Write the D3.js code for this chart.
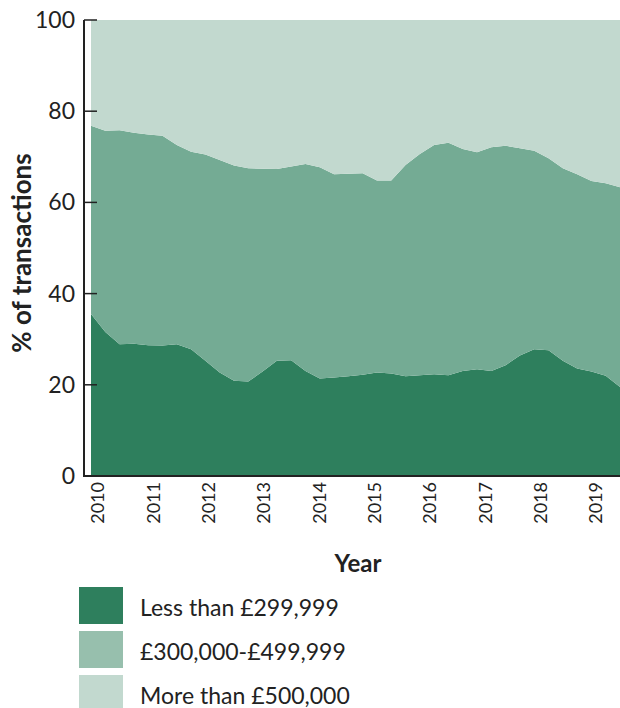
<!DOCTYPE html>
<html>
<head>
    <meta charset="utf-8">
    <title>Transactions by price band</title>
    <script src="https://cdn.jsdelivr.net/npm/d3@7"></script>
    <style>
        body { margin: 0; background: #fff; }
        svg { display: block; font-family: Lato, "Open Sans", sans-serif; }
    </style>
</head>
<body>
<div id="viz_container"></div>

<script type="text/javascript">

    // quarterly shares (%), 2010 Q1 onwards
    var lessThan300k = [35.5, 31.6, 28.9, 29.0, 28.7, 28.6, 28.9, 27.8, 25.3, 22.7,
                        20.9, 20.7, 22.9, 25.3, 25.4, 23.0, 21.4, 21.6, 21.9, 22.2,
                        22.7, 22.5, 21.9, 22.1, 22.3, 22.1, 23.0, 23.4, 23.0, 24.3,
                        26.4, 27.8, 27.6, 25.3, 23.6, 22.9, 22.0, 19.5];
    // cumulative top of the middle band
    var upTo500k = [76.8, 75.7, 75.8, 75.3, 74.9, 74.6, 72.6, 71.1, 70.5, 69.3,
                    68.1, 67.5, 67.4, 67.3, 67.9, 68.4, 67.7, 66.2, 66.3, 66.4,
                    64.8, 64.8, 68.2, 70.6, 72.6, 73.1, 71.7, 71.0, 72.1, 72.4,
                    71.9, 71.3, 69.7, 67.5, 66.2, 64.7, 64.2, 63.3];
    var years = [2010, 2011, 2012, 2013, 2014, 2015, 2016, 2017, 2018, 2019];
    var yTicks = [0, 20, 40, 60, 80, 100];
    var bands = ["Less than £299,999", "£300,000-£499,999", "More than £500,000"];

    var areaColors = ["#2e7f5d", "#74ab94", "#c2d9cf"];
    var legendColors = ["#2e7f5d", "#97bfad", "#c2d9cf"];

    var rows = lessThan300k.map(function (v, i) {
        return { i: i, low: v, mid: upTo500k[i] - v, high: 100 - upTo500k[i] };
    });

    var width = 620, height = 708;
    var svg = d3.select("#viz_container").append("svg")
            .attr("width", width).attr("height", height);

    var x = d3.scaleLinear().domain([0, rows.length - 1]).range([91, 620]);
    var xYear = d3.scaleLinear().domain([2010, 2019]).range([98, 596]);
    var y = d3.scaleLinear().domain([0, 100]).range([476, 20]);

    var stack = d3.stack().keys(["low", "mid", "high"]);
    var series = stack(rows);

    var area = d3.area()
            .x(function (d) { return x(d.data.i); })
            .y0(function (d) { return y(d[0]); })
            .y1(function (d) { return y(d[1]); });

    svg.append("g").selectAll("path")
            .data(series)
            .join("path")
            .attr("d", area)
            .attr("fill", function (d, k) { return areaColors[k]; });

    // y axis
    var axisColor = "#222";
    svg.append("line")
            .attr("x1", 84).attr("x2", 84)
            .attr("y1", y(100)).attr("y2", y(0) + 1)
            .attr("stroke", axisColor).attr("stroke-width", 2);
    svg.append("line")
            .attr("x1", 83).attr("x2", 620)
            .attr("y1", y(0)).attr("y2", y(0))
            .attr("stroke", axisColor).attr("stroke-width", 2);

    svg.append("g").selectAll("line")
            .data(yTicks)
            .join("line")
            .attr("x1", 84).attr("x2", 97)
            .attr("y1", function (d) { return y(d); })
            .attr("y2", function (d) { return y(d); })
            .attr("stroke", axisColor).attr("stroke-width", 1.5);

    svg.append("g").selectAll("text")
            .data(yTicks)
            .join("text")
            .attr("x", 75)
            .attr("y", function (d) { return y(d); })
            .attr("dy", "0.35em")
            .attr("text-anchor", "end")
            .attr("font-size", 23)
            .attr("fill", "#222")
            .text(function (d) { return d; });

    svg.append("text")
            .attr("transform", "translate(31," + ((y(0) + y(100)) / 2 + 5) + ") rotate(-90)")
            .attr("text-anchor", "middle")
            .attr("font-size", 26)
            .attr("font-weight", "bold")
            .attr("fill", "#222")
            .text("% of transactions");

    // x labels
    svg.append("g").selectAll("text")
            .data(years)
            .join("text")
            .attr("transform", function (d) { return "translate(" + xYear(d) + ",482) rotate(-90)"; })
            .attr("dy", "0.35em")
            .attr("text-anchor", "end")
            .attr("font-size", 18)
            .attr("fill", "#222")
            .text(function (d) { return d; });

    svg.append("text")
            .attr("x", 358).attr("y", 572)
            .attr("text-anchor", "middle")
            .attr("font-size", 24)
            .attr("font-weight", "bold")
            .attr("fill", "#222")
            .text("Year");

    // legend
    var legend = svg.append("g").selectAll("g")
            .data(bands)
            .join("g")
            .attr("transform", function (d, k) { return "translate(79," + (587 + k * 44) + ")"; });

    legend.append("rect")
            .attr("width", 44).attr("height", 37)
            .attr("fill", function (d, k) { return legendColors[k]; });

    legend.append("text")
            .attr("x", 61).attr("y", 29)
            .attr("font-size", 23)
            .attr("fill", "#222")
            .text(function (d) { return d; });

</script>
</body>
</html>
